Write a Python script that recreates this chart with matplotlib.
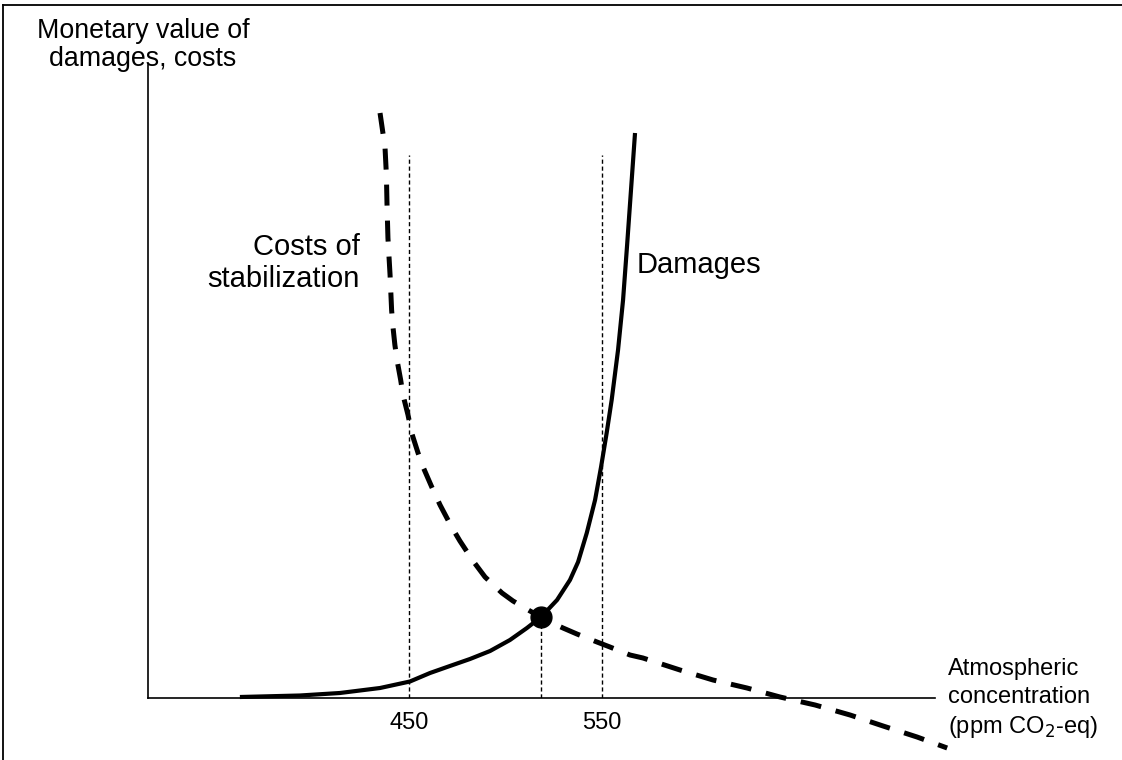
import matplotlib
matplotlib.use("Agg")
import matplotlib.pyplot as plt
from matplotlib.lines import Line2D

plt.rcParams['font.family'] = ['Liberation Sans', 'DejaVu Sans']

# damages curve (ppm CO2-eq, arbitrary monetary value)
dmg_x = [362.4, 393.5, 414.2, 435.0, 450.5, 460.9, 471.2, 481.6, 492.0, 502.3,
         511.1, 518.4, 526.7, 533.4, 537.6, 542.1, 546.4, 549.5, 552.4, 555.0,
         558.3, 560.9, 563.0, 567.1]
dmg_y = [0.01, 0.025, 0.05, 0.10, 0.165, 0.25, 0.32, 0.39, 0.47, 0.58,
         0.70, 0.81, 0.98, 1.18, 1.36, 1.65, 1.98, 2.31, 2.65, 2.98,
         3.48, 3.98, 4.53, 5.65]

# costs of stabilization curve
cost_x = [435.0, 436.5, 437.6, 438.3, 438.6, 439.1, 439.6, 440.2, 441.0, 441.6,
          442.7, 443.8, 445.7, 446.9, 449.5, 451.4, 454.7, 457.3, 461.8, 466.1,
          472.1, 476.4, 483.2, 489.4, 498.2, 503.9, 512.7, 518.4, 523.1, 529.8,
          537.0, 547.4, 554.1, 564.5, 571.2, 590.4, 607.5, 625.1, 642.2, 660.4,
          678.5, 695.6, 713.2, 728.8]
cost_y = [5.85, 5.65, 5.50, 5.23, 4.95, 4.60, 4.43, 4.23, 3.88, 3.73,
          3.53, 3.38, 3.18, 3.03, 2.83, 2.65, 2.45, 2.31, 2.11, 1.93,
          1.71, 1.57, 1.37, 1.21, 1.05, 0.97, 0.87, 0.81, 0.76, 0.70,
          0.64, 0.56, 0.51, 0.43, 0.40, 0.28, 0.18, 0.10, 0.01, -0.07,
          -0.17, -0.28, -0.39, -0.50]

opt_x, opt_y = 518.4, 0.81
tick_vals = [450, 550]
guide_top = 5.43

fig = plt.figure(figsize=(11.22, 7.6), dpi=100)
# frame lines on the top and left edges
fig.lines.append(Line2D([3 / 1122, 1], [1 - 5 / 760, 1 - 5 / 760], transform=fig.transFigure,
                        color='black', lw=1.3))
fig.lines.append(Line2D([3 / 1122, 3 / 1122], [0, 1 - 5 / 760], transform=fig.transFigure,
                        color='black', lw=1.3))

ax = fig.add_axes([148 / 1122, 62 / 760, (935 - 148) / 1122, (698 - 65) / 760])
ax.set_xlim(314.8, 722.5)
ax.set_ylim(0, 6.33)
for s in ['top', 'right']:
    ax.spines[s].set_visible(False)
for s in ['left', 'bottom']:
    ax.spines[s].set_linewidth(1.2)

ax.plot(dmg_x, dmg_y, color='black', lw=3.0, solid_capstyle='butt',
        solid_joinstyle='round', clip_on=False)
ax.plot(cost_x, cost_y, color='black', lw=3.6, dashes=(4.2, 3.0), clip_on=False)
ax.plot([opt_x], [opt_y], 'o', color='black', ms=15, clip_on=False, zorder=5)

ax.vlines(450, 0, guide_top, color='black', lw=1.0, linestyles=(0, (3, 2)))
ax.vlines(550, 0, guide_top, color='black', lw=1.0, linestyles=(0, (3, 2)))
ax.vlines(opt_x, 0, opt_y, color='black', lw=1.0, linestyles=(0, (3, 2)))

ax.set_xticks(tick_vals)
ax.set_xticklabels([str(v) for v in tick_vals], fontsize=17)
ax.tick_params(axis='x', length=0, pad=10)
ax.set_yticks([])

fig.text(143 / 1122, 1 - 45 / 760, 'Monetary value of\ndamages, costs', ha='center',
         va='center', fontsize=19.3, linespacing=1.1)
fig.text(360 / 1122, 1 - 263 / 760, 'Costs of\nstabilization', ha='right', va='center',
         multialignment='right', fontsize=21, linespacing=1.15)
fig.text(637 / 1122, 1 - 265 / 760, 'Damages', ha='left', va='center', fontsize=21)
fig.text(948 / 1122, 1 - 699 / 760, 'Atmospheric\nconcentration\n(ppm CO$_2$-eq)',
         ha='left', va='center', fontsize=17, linespacing=1.35)

fig.savefig('out.png', dpi=100)
